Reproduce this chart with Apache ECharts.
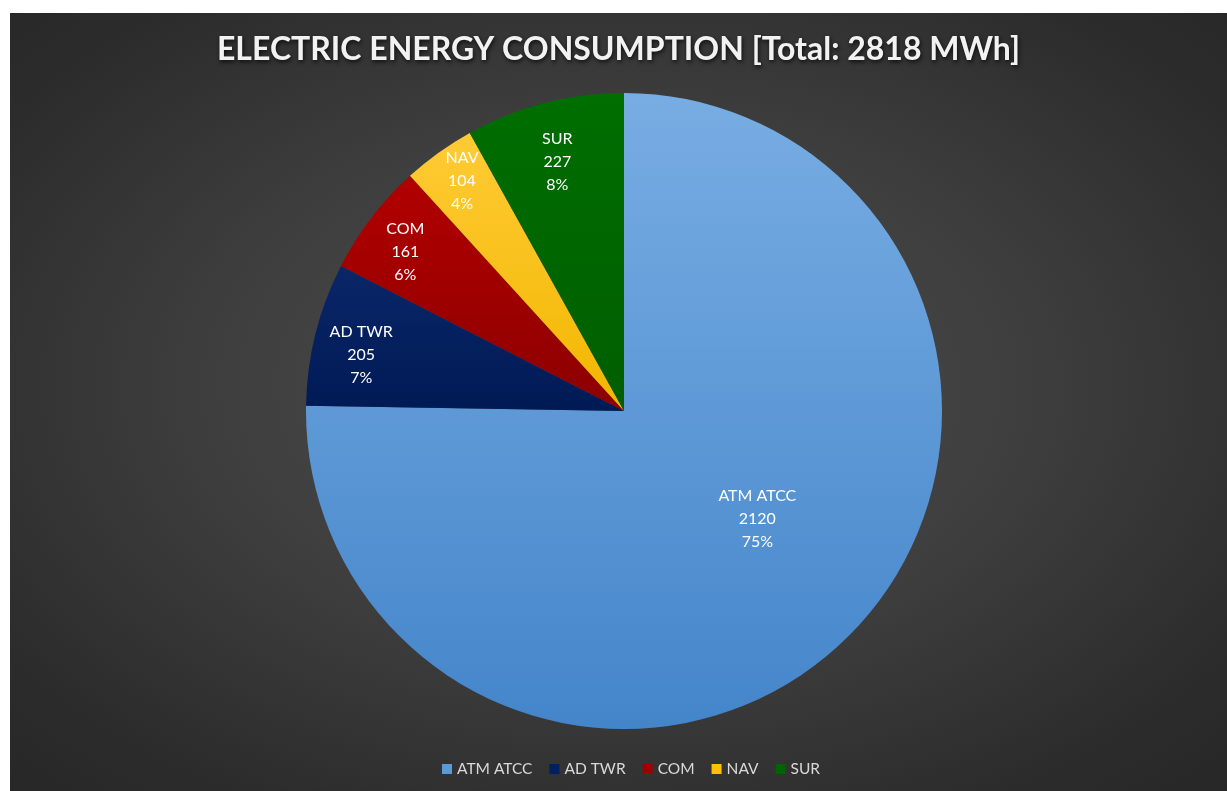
<!DOCTYPE html>
<html>
<head>
<meta charset="utf-8">
<script src="https://cdn.jsdelivr.net/npm/echarts@6/dist/echarts.min.js"></script>
<style>
html,body{margin:0;padding:0;background:#ffffff;width:1227px;height:791px;overflow:hidden;}
#chart{position:absolute;left:10px;top:13px;width:1217px;height:778px;
background:radial-gradient(ellipse 75% 75% at 50% 48%, #4e4e4e 0%, #3e3e3e 45%, #2c2c2c 80%, #262626 100%);}
</style>
</head>
<body>
<div id="chart"></div>
<script>
const titleText = 'ELECTRIC ENERGY CONSUMPTION [Total: 2818 MWh]';
const categories = ['ATM ATCC', 'AD TWR', 'COM', 'NAV', 'SUR'];
const values = [2120, 205, 161, 104, 227];
const percents = ['75%', '7%', '6%', '4%', '8%'];
const colorsTop = ['#78ade3', '#0b2668', '#b20000', '#ffcb35', '#006e00'];
const colorsBottom = ['#4485ca', '#001a55', '#8c0000', '#f2b600', '#005e00'];
const legendColors = ['#5b9bd5', '#002060', '#a00000', '#ffc000', '#006400'];

const chart = echarts.init(document.getElementById('chart'));
const CX = 614, CY = 398, R = 318;
// label placement (fraction of radius, angle shift in degrees) - layout only
const labelFrac = [0.54, 0.845, 0.85, 0.885, 0.81];
const labelShift = [-6.4, -2, -1.4, 0.5, -0.5];
const total = values.reduce((a, b) => a + b, 0);
const mids = [];
let acc = 0;
values.forEach(v => { const a = v / total * 360; mids.push(acc + a / 2); acc += a; });

const data = categories.map((c, i) => ({
  name: c,
  value: values[i],
  itemStyle: {
    color: new echarts.graphic.LinearGradient(0, 0, 0, 1, [
      { offset: 0, color: colorsTop[i] },
      { offset: 1, color: colorsBottom[i] }
    ])
  }
}));

chart.setOption({
  title: {
    text: titleText,
    left: 'center',
    top: 16,
    textStyle: {
      color: '#f2f2f2',
      fontFamily: 'Lato',
      fontWeight: 'bold',
      fontSize: 32,
      textShadowColor: 'rgba(0,0,0,0.75)',
      textShadowBlur: 4,
      textShadowOffsetX: 1,
      textShadowOffsetY: 2
    }
  },
  legend: {
    bottom: 9,
    left: 427,
    itemWidth: 10,
    itemHeight: 10,
    itemGap: 17,
    icon: 'rect',
    textStyle: { color: '#d9d9d9', fontFamily: 'Lato', fontSize: 15.5 },
    data: categories.map((c, i) => ({ name: c, itemStyle: { color: legendColors[i] } }))
  },
  series: [{
    type: 'pie',
    center: [CX, CY],
    radius: R,
    startAngle: 90,
    clockwise: true,
    animation: false,
    silent: true,
    data: data,
    label: {
      position: 'inside',
      color: '#ffffff',
      fontFamily: 'Lato',
      fontSize: 16,
      lineHeight: 23,
      formatter: p => p.name + '\n' + p.value + '\n' + percents[p.dataIndex]
    },
    labelLayout: function (params) {
      const i = params.dataIndex;
      const th = (mids[i] + labelShift[i]) * Math.PI / 180;
      return {
        x: CX + Math.sin(th) * R * labelFrac[i],
        y: CY - Math.cos(th) * R * labelFrac[i],
        align: 'center',
        verticalAlign: 'middle'
      };
    },
    labelLine: { show: false }
  }]
});
</script>
</body>
</html>
